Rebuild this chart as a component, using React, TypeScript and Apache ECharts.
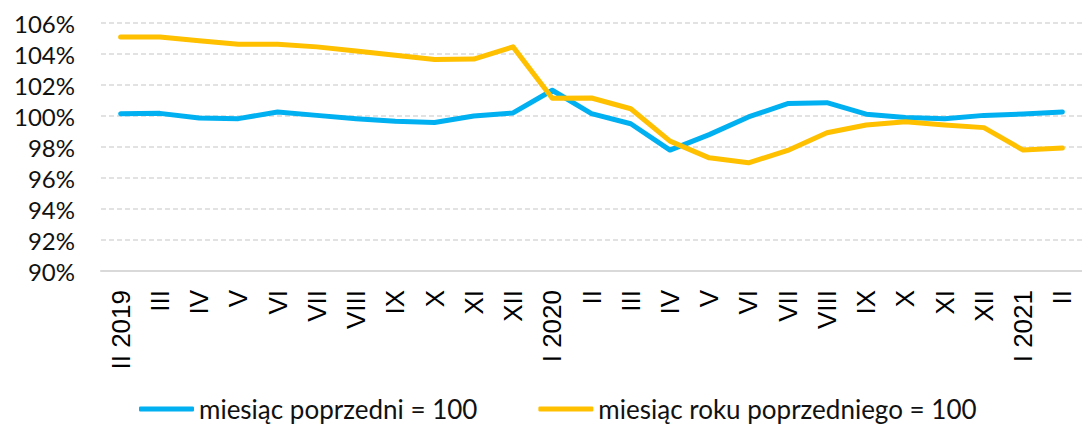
import React, { useEffect, useRef } from "react";
import * as echarts from "echarts";

const categories = [
  "II 2019", "III", "IV", "V", "VI", "VII", "VIII", "IX", "X", "XI", "XII",
  "I 2020", "II", "III", "IV", "V", "VI", "VII", "VIII", "IX", "X", "XI", "XII",
  "I 2021", "II",
];

const prevMonth = [
  100.15, 100.17, 99.87, 99.83, 100.26, 100.04, 99.83, 99.66, 99.58, 100.0, 100.2,
  101.66, 100.15, 99.5, 97.8, 98.8, 99.94, 100.8, 100.86, 100.12, 99.9, 99.83, 100.04,
  100.13, 100.26,
];

const prevYear = [
  105.1, 105.1, 104.85, 104.63, 104.63, 104.46, 104.2, 103.92, 103.64, 103.67, 104.46,
  101.14, 101.16, 100.47, 98.38, 97.3, 96.98, 97.78, 98.92, 99.42, 99.63, 99.42, 99.25,
  97.8, 97.93,
];

const yTicks = { min: 90, max: 106, interval: 2 };

const seriesNames = ["miesiąc poprzedni = 100", "miesiąc roku poprzedniego = 100"];

export default function App() {
  const ref = useRef<HTMLDivElement>(null);

  useEffect(() => {
    if (!ref.current) return;
    const chart = echarts.init(ref.current, undefined, { renderer: "svg" });
    chart.setOption({
      animation: false,
      grid: { left: 101, right: -8, top: 23, bottom: 154, containLabel: false },
      legend: {
        left: 134,
        top: 391,
        itemGap: 61,
        itemWidth: 55,
        itemHeight: 5,
        icon: "roundRect",
        textStyle: { fontFamily: "Lato", fontSize: 26, color: "#111" },
        data: seriesNames,
      },
      xAxis: {
        type: "category",
        data: categories,
        boundaryGap: true,
        axisLine: { show: true, lineStyle: { color: "#d9d9d9", width: 2 } },
        axisTick: { show: false },
        axisLabel: {
          interval: 0,
          rotate: 90,
          margin: 19,
          fontFamily: "Liberation Sans",
          fontSize: 26,
          color: "#000",
        },
      },
      yAxis: {
        type: "value",
        min: yTicks.min,
        max: yTicks.max,
        interval: yTicks.interval,
        axisLine: { show: false },
        axisTick: { show: false },
        splitLine: { show: true, lineStyle: { color: "#d9d9d9", width: 1.5, type: [5, 3] } },
        axisLabel: {
          margin: 26,
          formatter: "{value}%",
          fontFamily: "Lato",
          fontSize: 24,
          color: "#111",
        },
      },
      series: [
        {
          name: seriesNames[0],
          type: "line",
          data: prevMonth,
          symbol: "none",
          itemStyle: { color: "#00b0f0" },
          lineStyle: { color: "#00b0f0", width: 5, cap: "round", join: "round" },
        },
        {
          name: seriesNames[1],
          type: "line",
          data: prevYear,
          symbol: "none",
          itemStyle: { color: "#ffc000" },
          lineStyle: { color: "#ffc000", width: 5, cap: "round", join: "round" },
        },
      ],
    });
    return () => chart.dispose();
  }, []);

  return (
    <div
      ref={ref}
      style={{ position: "absolute", left: 0, top: 0, width: 1082, height: 425 }}
    />
  );
}
